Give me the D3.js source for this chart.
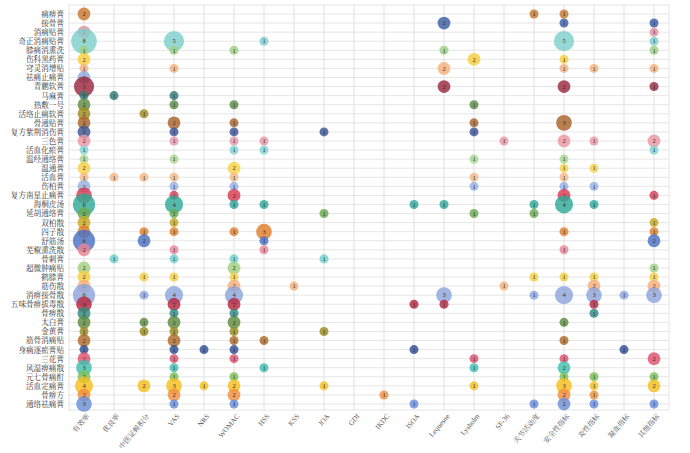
<!DOCTYPE html>
<html><head><meta charset="utf-8">
<script src="https://cdn.jsdelivr.net/npm/d3@7"></script>
<style>
body{margin:0;background:#fff;}
text{font-family:"Liberation Serif","Noto Serif CJK SC","Noto Sans CJK SC",serif;}
</style></head>
<body><svg id="chart" width="690" height="453"></svg>
<script>
var columns = ['有效率','优良率','中医证候积分','VAS','NRS','WOMAC','HSS','KSS','JOA','GDI','IKDC','ISOA','Lequesne','Lysholm','SF-36','关节活动度','安全性指标','炎性指标','凝血指标','其他指标'];

var rows = ['痛痹膏','接骨膏','消痛贴膏','奇正消痛贴膏','膝痛消熏洗','伤科黑药膏','穹灵消增贴','祛痛止痛膏','青鹏软膏','马麻膏',
  '热敷一号','活络止痛软膏','骨通贴膏','复方紫荆消伤膏','三色膏','活血化瘀膏','温经通络膏','温通膏','活血膏','伤柏膏',
  '复方南星止痛膏','海桐皮汤','延胡通络膏','双柏散','四子散','舒筋汤','芜椒熏洗散','骨刺膏','超微肿痛贴','鹤膝膏',
  '筋伤散','消痹接骨散','五味骨痹拔毒散','骨痹散','太白膏','金黄膏','筋骨消痛贴','身痛逐瘀膏贴','三花膏','风湿痹痛散',
  '元七骨痛酊','活血定痛膏','骨痹方','通络祛痛膏'];

var rowColors = ['#c8772f','#3c5ea6','#e8909f','#7fd0cc','#9fd080','#f5cd3f','#f5b07c','#8ea6dd','#9b2a3e','#2f7d74',
  '#5e8c46','#a08c20','#a8642a','#3c5596','#ec96a4','#80d4d0','#a8d68c','#f7d24a','#f7b888','#98b0e0',
  '#d83a52','#30aa98','#6aaa50','#c8a820','#e07f2a','#4a72c4','#ec8595','#6fd0c8','#9fd080','#f5cd3f',
  '#f5b07c','#8ea6dd','#b8283e','#2e8a80','#5e8c3e','#9c8a1c','#b06a28','#2f4f94','#e0506a','#40c0b0',
  '#7cc050','#f5c020','#f09040','#6a90d8'];

// [row index, column index, count]
var counts = [
  [0,0,2],[0,15,1],[0,16,1],
  [1,12,2],[1,16,1],[1,19,1],
  [2,0,2],[2,19,1],
  [3,0,8],[3,3,5],[3,6,1],[3,16,5],[3,19,1],
  [4,0,1],[4,3,1],[4,5,1],[4,12,1],[4,19,1],
  [5,0,2],[5,13,2],[5,16,1],
  [6,0,1],[6,3,1],[6,12,2],[6,16,1],[6,17,1],[6,19,1],
  [7,0,2],
  [8,0,5],[8,12,2],[8,16,2],[8,19,1],
  [9,0,1],[9,1,1],[9,3,1],
  [10,0,2],[10,3,1],[10,5,1],[10,13,1],
  [11,0,2],[11,2,1],
  [12,0,2],[12,3,2],[12,5,1],[12,13,1],[12,16,3],
  [13,0,2],[13,3,1],[13,5,1],[13,8,1],[13,13,1],
  [14,0,2],[14,3,1],[14,5,1],[14,6,1],[14,14,1],[14,16,2],[14,17,1],[14,19,2],
  [15,0,1],[15,5,1],[15,6,1],[15,19,1],
  [16,0,1],[16,3,1],[16,13,1],[16,16,1],
  [17,0,2],[17,5,2],[17,16,1],[17,17,1],
  [18,0,1],[18,1,1],[18,2,1],[18,3,1],[18,5,1],[18,13,1],[18,16,1],
  [19,0,2],[19,3,1],[19,5,1],[19,13,1],[19,16,1],[19,17,1],
  [20,0,3],[20,3,1],[20,5,2],[20,16,2],[20,19,1],
  [21,0,6],[21,3,4],[21,5,1],[21,6,1],[21,11,1],[21,12,1],[21,15,1],[21,16,4],[21,17,1],
  [22,0,2],[22,3,1],[22,8,1],[22,13,1],[22,15,1],
  [23,0,2],[23,3,1],[23,19,1],
  [24,0,2],[24,2,1],[24,3,1],[24,5,1],[24,6,3],[24,16,1],[24,19,1],
  [25,0,6],[25,2,2],[25,6,1],[25,19,2],
  [26,0,2],[26,3,1],[26,6,1],[26,16,1],
  [27,1,1],[27,3,1],[27,5,1],[27,8,1],
  [28,0,2],[28,5,2],[28,19,1],
  [29,0,2],[29,2,1],[29,3,1],[29,5,1],[29,15,1],[29,16,1],[29,17,1],[29,19,1],
  [30,0,2],[30,5,2],[30,7,1],[30,14,1],[30,17,2],[30,19,2],
  [31,0,6],[31,2,1],[31,3,4],[31,5,4],[31,12,3],[31,15,1],[31,16,4],[31,17,3],[31,18,1],[31,19,3],
  [32,0,3],[32,3,2],[32,5,2],[32,11,1],[32,12,1],[32,17,1],
  [33,0,2],[33,3,1],[33,5,1],[33,17,1],
  [34,0,2],[34,2,1],[34,3,2],[34,5,2],[34,16,1],
  [35,0,1],[35,2,1],[35,3,1],[35,5,1],[35,8,1],
  [36,0,2],[36,3,2],[36,5,1],[36,6,1],[36,16,1],
  [37,0,1],[37,3,1],[37,4,1],[37,5,1],[37,11,1],[37,18,1],
  [38,0,2],[38,3,1],[38,5,1],[38,13,1],[38,16,1],[38,19,2],
  [39,0,3],[39,3,1],[39,6,1],[39,13,1],[39,16,2],
  [40,0,2],[40,3,1],[40,5,1],[40,16,1],[40,17,1],[40,19,1],
  [41,0,4],[41,2,2],[41,3,3],[41,4,1],[41,5,2],[41,8,1],[41,13,1],[41,16,3],[41,17,1],[41,19,2],
  [42,0,2],[42,3,2],[42,5,2],[42,10,1],[42,16,2],[42,17,1],
  [43,0,3],[43,3,1],[43,5,1],[43,11,1],[43,15,1],[43,16,2],[43,17,1],[43,19,1]
];

var svg = d3.select('#chart');
var x = d3.scalePoint().domain(columns).range([84, 654]);
var y = d3.scalePoint().domain(rows).range([14, 404]);
var r = d3.scaleSqrt().domain([0, 8]).range([0, 12.8]);

var grid = svg.append('g');
grid.append('rect').attr('x', 69).attr('y', 5).attr('width', 600).attr('height', 405)
  .attr('fill', 'none').attr('stroke', '#e4e4e4');
grid.selectAll('line.h').data(rows).enter().append('line')
  .attr('x1', 69).attr('x2', 669)
  .attr('y1', function(d) { return y(d); }).attr('y2', function(d) { return y(d); })
  .attr('stroke', '#e6e6e6').attr('stroke-width', 1);
grid.selectAll('line.v').data(columns).enter().append('line')
  .attr('y1', 5).attr('y2', 410)
  .attr('x1', function(d) { return x(d); }).attr('x2', function(d) { return x(d); })
  .attr('stroke', '#e0e0e0').attr('stroke-width', 1);

var yAxis = svg.append('g').attr('transform', 'translate(68,0)')
  .call(d3.axisLeft(y).tickSize(0).tickPadding(4));
yAxis.select('.domain').remove();
yAxis.selectAll('text').attr('font-size', 7.6).attr('fill', '#333');

var xAxis = svg.append('g').attr('transform', 'translate(0,410)')
  .call(d3.axisBottom(x).tickSize(0).tickPadding(4));
xAxis.select('.domain').remove();
xAxis.selectAll('text').attr('font-size', 7.2).attr('fill', '#555')
  .attr('text-anchor', 'end').attr('dx', '-0.2em').attr('dy', '0.6em')
  .attr('transform', 'rotate(-50)');

var bubbles = svg.append('g').selectAll('g').data(counts).enter().append('g')
  .attr('transform', function(d) { return 'translate(' + x(columns[d[1]]) + ',' + y(rows[d[0]]) + ')'; });
bubbles.append('circle')
  .attr('r', function(d) { return r(d[2]); })
  .attr('fill', function(d) { return rowColors[d[0]]; })
  .attr('fill-opacity', 0.82);
bubbles.append('text')
  .attr('text-anchor', 'middle').attr('dy', '0.35em')
  .attr('font-size', 6.5).attr('fill', '#333')
  .text(function(d) { return d[2]; });
</script></body></html>
